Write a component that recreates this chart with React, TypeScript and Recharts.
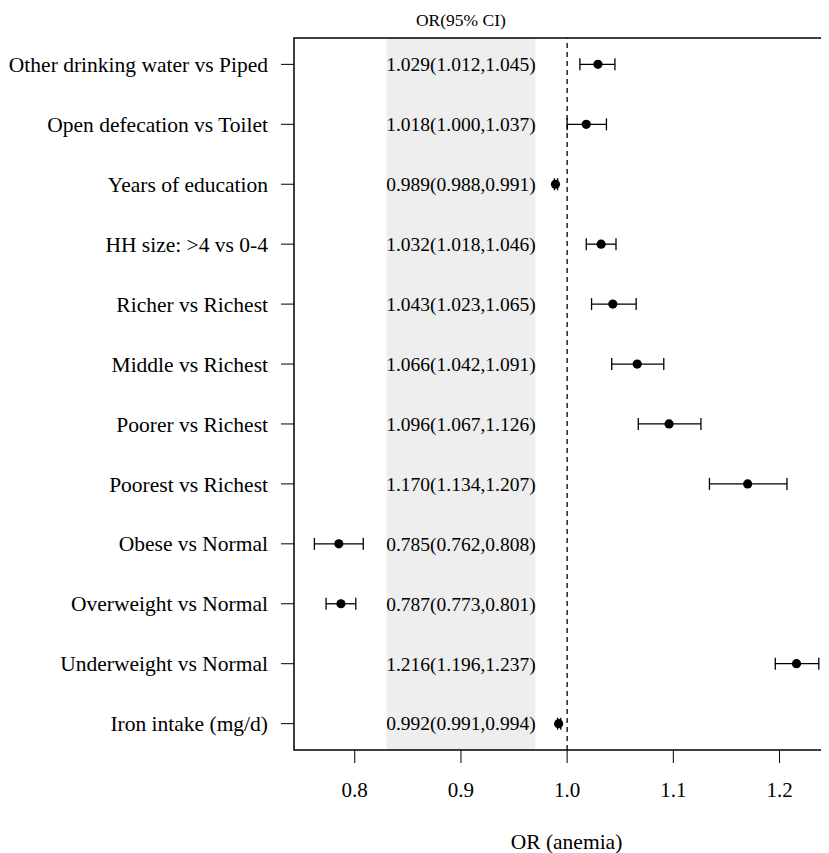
import React from 'react';
import {
  ComposedChart, Scatter, XAxis, YAxis, ErrorBar, ReferenceArea, ReferenceLine, Label,
} from 'recharts';

const rowLabels = [
  'Other drinking water vs Piped',
  'Open defecation vs Toilet',
  'Years of education',
  'HH size: >4 vs 0-4',
  'Richer vs Richest',
  'Middle vs Richest',
  'Poorer vs Richest',
  'Poorest vs Richest',
  'Obese vs Normal',
  'Overweight vs Normal',
  'Underweight vs Normal',
  'Iron intake (mg/d)',
];
const orValues = [1.029, 1.018, 0.989, 1.032, 1.043, 1.066, 1.096, 1.170, 0.785, 0.787, 1.216, 0.992];
const ciLow = [1.012, 1.000, 0.988, 1.018, 1.023, 1.042, 1.067, 1.134, 0.762, 0.773, 1.196, 0.991];
const ciHigh = [1.045, 1.037, 0.991, 1.046, 1.065, 1.091, 1.126, 1.207, 0.808, 0.801, 1.237, 0.994];
const ciTexts = [
  '1.029(1.012,1.045)',
  '1.018(1.000,1.037)',
  '0.989(0.988,0.991)',
  '1.032(1.018,1.046)',
  '1.043(1.023,1.065)',
  '1.066(1.042,1.091)',
  '1.096(1.067,1.126)',
  '1.170(1.134,1.207)',
  '0.785(0.762,0.808)',
  '0.787(0.773,0.801)',
  '1.216(1.196,1.237)',
  '0.992(0.991,0.994)',
];
const xTicks = [0.8, 0.9, 1.0, 1.1, 1.2];
const rowIds = rowLabels.map((_, i) => i + 1);

const X_DOMAIN: [number, number] = [0.7428, 1.256];
const Y_DOMAIN: [number, number] = [0.56, 12.44];
const TEXT_X = 0.9;
const BAND = [0.83, 0.97];

const FONT = '"Liberation Serif", "Times New Roman", serif';

const pointData = rowLabels.map((label, i) => ({
  row: rowIds[i],
  or: orValues[i],
  err: [orValues[i] - ciLow[i], ciHigh[i] - orValues[i]],
  label,
}));
const textData = ciTexts.map((t, i) => ({ row: rowIds[i], or: TEXT_X, text: t }));

const Dot = (props: any) => <circle cx={props.cx} cy={props.cy} r={4.6} fill="#000" />;
const CiText = (props: any) => (
  <text
    x={props.cx}
    y={props.cy}
    dy="0.35em"
    textAnchor="middle"
    fontFamily={FONT}
    fontSize={19.5}
    fill="#000"
  >
    {props.payload.text}
  </text>
);

export default function App() {
  return (
    <div style={{ width: 821, height: 845, overflow: 'hidden' }}>
      <ComposedChart
        width={831}
        height={845}
        margin={{ top: 30, right: 0, bottom: 0, left: 0 }}
      >
        <XAxis
          type="number"
          dataKey="or"
          domain={X_DOMAIN}
          ticks={xTicks}
          allowDataOverflow
          tickFormatter={(v: number) => v.toFixed(1)}
          tick={{ fontFamily: FONT, fontSize: 21, fill: '#000' }}
          tickSize={13}
          tickMargin={19}
          stroke="#000"
          axisLine={false}
          height={103}
        >
          <Label
            value="OR (anemia)"
            position="insideBottom"
            offset={4}
            style={{ fontFamily: FONT, fontSize: 21.5, fill: '#000' }}
          />
        </XAxis>
        <YAxis
          type="number"
          dataKey="row"
          domain={Y_DOMAIN}
          ticks={rowIds}
          reversed
          allowDataOverflow
          interval={0}
          tickFormatter={(v: number) => rowLabels[v - 1]}
          tick={{ fontFamily: FONT, fontSize: 21.5, fill: '#000' }}
          tickSize={13}
          tickMargin={13}
          stroke="#000"
          axisLine={false}
          width={286}
        />
        <ReferenceArea
          x1={BAND[0]}
          x2={BAND[1]}
          y1={Y_DOMAIN[0]}
          y2={Y_DOMAIN[1]}
          fill="#eeeeee"
          fillOpacity={1}
          stroke="none"
        >
          <Label
            value="OR(95% CI)"
            position="top"
            offset={12}
            style={{ fontFamily: FONT, fontSize: 17.5, fill: '#000' }}
          />
        </ReferenceArea>
        <ReferenceLine x={1} stroke="#000" strokeWidth={1.3} strokeDasharray="5 4" />
        <ReferenceArea
          x1={X_DOMAIN[0]}
          x2={X_DOMAIN[1]}
          y1={Y_DOMAIN[0]}
          y2={Y_DOMAIN[1]}
          fill="none"
          stroke="#000"
          strokeWidth={1.5}
        />
        <Scatter data={textData} dataKey="row" shape={CiText} isAnimationActive={false} />
        <Scatter data={pointData} dataKey="row" shape={Dot} isAnimationActive={false}>
          <ErrorBar dataKey="err" direction="x" width={6} stroke="#000" strokeWidth={1.3} />
        </Scatter>
      </ComposedChart>
    </div>
  );
}
